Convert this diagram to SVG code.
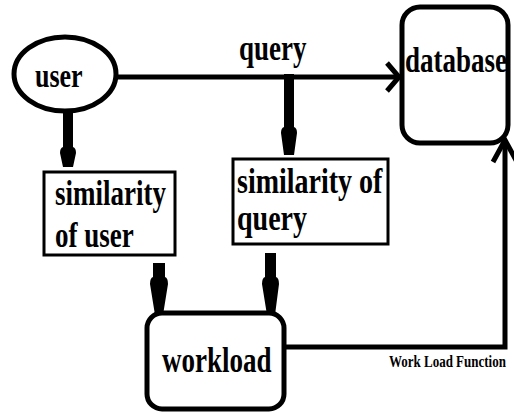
<svg xmlns="http://www.w3.org/2000/svg" width="514" height="413" viewBox="0 0 514 413">
  <style>
    .lbl { font-family: "Liberation Serif", "Times New Roman", serif; font-weight: bold; fill: #000; }
    .big { font-size: 27px; }
    .small { font-size: 13px; }
    .node { fill: #fff; stroke: #000; }
    .thick { stroke-width: 5; }
    .thin { stroke-width: 3; }
    .line { fill: none; stroke: #000; stroke-width: 5; }
    .fat { fill: #000; stroke: none; }
  </style>
  <rect width="514" height="413" fill="#fff"/>

  <!-- connectors -->
  <g id="connectors">
    <!-- user to database -->
    <path class="line" d="M117,77 H398"/>
    <path class="line" d="M387,63 L399,77 L387,91" stroke-linejoin="miter"/>
    <!-- workload to database (Work Load Function) -->
    <path class="line" d="M284,347 H505 V140"/>
    <path class="line" d="M493,162 L505,140 L517,162"/>
    <!-- user to similarity of user -->
    <path class="fat" d="M63,110 H73 V147 Q76,148 76,153 L73,167 H63 L60,153 Q60,148 63,147 Z"/>
    <!-- query line to similarity of query -->
    <path class="fat" d="M284,74 H294 V127 Q297,128 297,133 L294,155 H284 L281,133 Q281,128 284,127 Z"/>
    <!-- similarity of user to workload -->
    <path class="fat" d="M153,263 H165 V277 Q168,278 168,284 L163,315 H155 L150,284 Q150,278 153,277 Z"/>
    <!-- similarity of query to workload -->
    <path class="fat" d="M265,253 H276 V277 Q279,278 279,284 L275,315 H267 L262,284 Q262,278 265,277 Z"/>
  </g>
  <text class="lbl big" transform="translate(239,60) scale(1,1.3)">query</text>
  <text class="lbl small" transform="translate(389,367) scale(1,1.3)">Work Load Function</text>

  <g id="user">
    <ellipse class="node thick" cx="65" cy="74" rx="51" ry="37"/>
    <text class="lbl" font-size="26" transform="translate(35,87) scale(1,1.3)">user</text>
  </g>

  <g id="database">
    <rect class="node thick" x="402" y="7" width="106" height="136" rx="18"/>
    <text class="lbl big" transform="translate(405,72) scale(1,1.3)">database</text>
  </g>

  <g id="similarity-of-user">
    <rect class="node thin" x="44" y="172" width="131" height="83"/>
    <text class="lbl big" transform="translate(55,205) scale(1,1.3)">similarity</text>
    <text class="lbl big" transform="translate(55,247) scale(1,1.3)">of user</text>
  </g>

  <g id="similarity-of-query">
    <rect class="node thin" x="233" y="159" width="155" height="85"/>
    <text class="lbl" font-size="28" transform="translate(237,193) scale(1,1.3)">similarity of</text>
    <text class="lbl" font-size="28" transform="translate(237,230) scale(1,1.3)">query</text>
  </g>

  <g id="workload">
    <rect class="node thick" x="147" y="313" width="137" height="96" rx="15"/>
    <text class="lbl big" transform="translate(162,372) scale(1,1.3)">workload</text>
  </g>
</svg>
